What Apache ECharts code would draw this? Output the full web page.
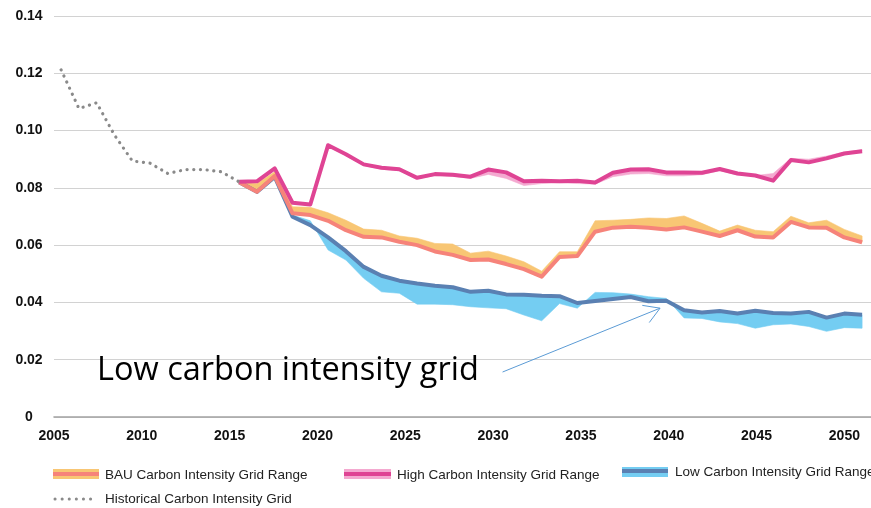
<!DOCTYPE html>
<html>
<head>
<meta charset="utf-8">
<script src="https://cdn.jsdelivr.net/npm/echarts@6/dist/echarts.min.js"></script>
<style>
html, body { margin: 0; padding: 0; background: #fff; }
#main { width: 871px; height: 508px; }
</style>
</head>
<body>
<div id="main"></div>
<script>
// historical grid intensity
var histYears = [2005, 2006, 2007, 2008, 2009, 2010, 2011, 2012, 2013, 2014, 2015];
var histValues = [0.1212, 0.1077, 0.1097, 0.0984, 0.0894, 0.0886, 0.0850, 0.0864, 0.0864, 0.0856, 0.0821];

// scenario years
var scenYears = [2015, 2016, 2017, 2018, 2019, 2020, 2021, 2022, 2023, 2024, 2025, 2026,
  2027, 2028, 2029, 2030, 2031, 2032, 2033, 2034, 2035, 2036, 2037, 2038,
  2039, 2040, 2041, 2042, 2043, 2044, 2045, 2046, 2047, 2048, 2049, 2050];

// BAU: main line + other edge of the range
var bauLine = [0.0820, 0.0786, 0.0841, 0.0711, 0.0705, 0.0685, 0.0652, 0.0629, 0.0627, 0.0612, 0.0600, 0.0578,
  0.0566, 0.0548, 0.0550, 0.0534, 0.0516, 0.0490, 0.0559, 0.0562, 0.0647, 0.0661, 0.0664, 0.0661,
  0.0655, 0.0662, 0.0647, 0.0632, 0.0652, 0.0630, 0.0627, 0.0681, 0.0662, 0.0661, 0.0627, 0.0610];
var bauEdge = [0.0820, 0.0815, 0.0856, 0.0734, 0.0732, 0.0713, 0.0687, 0.0656, 0.0652, 0.0632, 0.0624, 0.0606,
  0.0604, 0.0572, 0.0579, 0.0562, 0.0542, 0.0509, 0.0577, 0.0577, 0.0685, 0.0687, 0.0690, 0.0695,
  0.0693, 0.0702, 0.0676, 0.0649, 0.0670, 0.0652, 0.0647, 0.0701, 0.0678, 0.0687, 0.0655, 0.0632];

// High
var highLine = [0.0821, 0.0823, 0.0868, 0.0748, 0.0742, 0.0949, 0.0917, 0.0882, 0.0870, 0.0865, 0.0835, 0.0848,
  0.0846, 0.0839, 0.0864, 0.0854, 0.0823, 0.0825, 0.0823, 0.0825, 0.0819, 0.0853, 0.0864, 0.0865,
  0.0854, 0.0854, 0.0853, 0.0866, 0.0850, 0.0843, 0.0825, 0.0897, 0.0889, 0.0903, 0.0920, 0.0928];
var highEdge = [0.0821, 0.0823, 0.0868, 0.0748, 0.0742, 0.0945, 0.0912, 0.0878, 0.0865, 0.0860, 0.0832, 0.0843,
  0.0840, 0.0833, 0.0847, 0.0833, 0.0808, 0.0815, 0.0818, 0.0815, 0.0813, 0.0839, 0.0848, 0.0850,
  0.0842, 0.0842, 0.0846, 0.0860, 0.0845, 0.0843, 0.0850, 0.0903, 0.0900, 0.0911, 0.0925, 0.0933];

// Low
var lowLine = [0.0820, 0.0786, 0.0838, 0.0699, 0.0670, 0.0627, 0.0579, 0.0524, 0.0493, 0.0476, 0.0466, 0.0458,
  0.0453, 0.0437, 0.0441, 0.0428, 0.0427, 0.0423, 0.0422, 0.0398, 0.0405, 0.0412, 0.0419, 0.0404,
  0.0406, 0.0373, 0.0365, 0.0370, 0.0361, 0.0371, 0.0363, 0.0361, 0.0367, 0.0347, 0.0361, 0.0357];
var lowEdge = [0.0820, 0.0786, 0.0838, 0.0705, 0.0685, 0.0583, 0.0548, 0.0484, 0.0437, 0.0432, 0.0394, 0.0394,
  0.0392, 0.0385, 0.0381, 0.0378, 0.0356, 0.0336, 0.0396, 0.0380, 0.0435, 0.0434, 0.0429, 0.0420,
  0.0414, 0.0346, 0.0344, 0.0332, 0.0326, 0.0310, 0.0322, 0.0325, 0.0316, 0.0299, 0.0312, 0.0310];

var xTickLabels = ['2005', '2010', '2015', '2020', '2025', '2030', '2035', '2040', '2045', '2050'];
var yTickLabels = ['0', '0.02', '0.04', '0.06', '0.08', '0.10', '0.12', '0.14'];

// annotation (data space)
var noteText = 'Low carbon intensity grid';
var arrowFrom = [2029.8, 0.0157];
var arrowTo = [2038.65, 0.0380];

var xMin = 2004.6, xMax = 2050.5, xStep = 4.934;
var font = '"Liberation Sans", Arial, sans-serif';

function pairs(xs, ys) {
  return ys.map(function (v, i) { return [xs[i], v]; });
}

// range band: polygon between the main line and the other edge
function band(line, edge, color) {
  return {
    type: 'custom', silent: true,
    data: scenYears.map(function (y, i) { return [y, line[i], edge[i]]; }),
    encode: { x: 0, y: [1, 2] },
    renderItem: function (params, api) {
      if (params.dataIndex !== 0) return;
      var top = line.map(function (v, i) { return api.coord([scenYears[i], v]); });
      var bot = edge.map(function (v, i) { return api.coord([scenYears[i], v]); }).reverse();
      return { type: 'polygon', shape: { points: top.concat(bot) },
        style: { fill: color, stroke: color, lineWidth: 0.6 } };
    }
  };
}

function mainLine(data, color) {
  return { type: 'line', data: pairs(scenYears, data), symbol: 'none', silent: true,
    lineStyle: { color: color, width: 4, join: 'round' } };
}

var chart = echarts.init(document.getElementById('main'));

chart.setOption({
  animation: false,
  grid: { left: 54, right: 0, top: 16, bottom: 91, containLabel: false },
  xAxis: {
    type: 'value', min: xMin, max: xMax, interval: xStep,
    axisLine: { show: true, lineStyle: { color: '#a3a3a3', width: 1.6 } },
    axisTick: { show: false },
    splitLine: { show: false },
    axisLabel: {
      margin: 12, color: '#111', fontWeight: 'bold', fontSize: 14, fontFamily: font,
      showMaxLabel: false,
      formatter: function (v) {
        var k = (v - xMin) / xStep;
        var r = Math.round(k);
        if (Math.abs(k - r) > 0.02 || r < 0 || r >= xTickLabels.length) return '';
        return xTickLabels[r];
      }
    }
  },
  yAxis: {
    type: 'value', min: 0, max: 0.14, interval: 0.02,
    axisLine: { show: false },
    axisTick: { show: false },
    splitLine: { lineStyle: { color: '#d2d2d2', width: 1.2 } },
    axisLabel: {
      margin: 25, align: 'center', color: '#111', fontWeight: 'bold', fontSize: 14, fontFamily: font,
      formatter: function (v) { return yTickLabels[Math.round(v / 0.02)]; }
    }
  },
  series: [
    band(lowLine, lowEdge, '#74cdf2'),
    band(bauLine, bauEdge, '#f8c674'),
    band(highLine, highEdge, '#f4a9d0'),
    mainLine(lowLine, '#5a80b2'),
    mainLine(bauLine, '#f6837a'),
    mainLine(highLine, '#df4494'),
    { type: 'line', data: pairs(histYears, histValues), symbol: 'none', silent: true,
      lineStyle: { color: '#8a8a8a', width: 3.2, type: [0.1, 6.6], cap: 'round' } }
  ]
});

// legend + annotation drawn as graphics
var p0 = chart.convertToPixel({ gridIndex: 0 }, arrowFrom);
var p1 = chart.convertToPixel({ gridIndex: 0 }, arrowTo);
var ang = Math.atan2(p0[1] - p1[1], p0[0] - p1[0]);
var barb = 18, spread = 31 * Math.PI / 180;
function barbPt(s) {
  return [p1[0] + barb * Math.cos(ang + s), p1[1] + barb * Math.sin(ang + s)];
}

var legendText = { fill: '#222', font: '13.5px ' + font, verticalAlign: 'middle' };
function lt(x, y, text) {
  return { type: 'text', x: x, y: y, style: Object.assign({ text: text }, legendText) };
}

chart.setOption({
  graphic: [
    // BAU
    { type: 'rect', shape: { x: 53, y: 469, width: 46, height: 10 }, style: { fill: '#f8c674' } },
    { type: 'line', shape: { x1: 53, y1: 474, x2: 99, y2: 474 }, style: { stroke: '#f6837a', lineWidth: 4 } },
    lt(105, 475, 'BAU Carbon Intensity Grid Range'),
    // High
    { type: 'rect', shape: { x: 344, y: 469, width: 47, height: 10 }, style: { fill: '#f4a9d0' } },
    { type: 'line', shape: { x1: 344, y1: 474, x2: 391, y2: 474 }, style: { stroke: '#df4494', lineWidth: 4 } },
    lt(397, 475, 'High Carbon Intensity Grid Range'),
    // Low
    { type: 'rect', shape: { x: 622, y: 467, width: 46, height: 10 }, style: { fill: '#74cdf2' } },
    { type: 'line', shape: { x1: 622, y1: 471, x2: 668, y2: 471 }, style: { stroke: '#5a80b2', lineWidth: 4 } },
    lt(675, 472, 'Low Carbon Intensity Grid Range'),
    // Historical
    { type: 'line', shape: { x1: 55, y1: 499, x2: 96, y2: 499 },
      style: { stroke: '#8a8a8a', lineWidth: 3, lineDash: [0.1, 7], lineCap: 'round' } },
    lt(105, 499, 'Historical Carbon Intensity Grid'),
    // annotation
    { type: 'text', x: 97, y: 371,
      style: { text: noteText, fill: '#000', font: '32.5px "Open Sans", sans-serif', verticalAlign: 'middle' } },
    { type: 'line', shape: { x1: p0[0], y1: p0[1], x2: p1[0], y2: p1[1] }, style: { stroke: '#5b9bd5', lineWidth: 1 } },
    { type: 'polyline', shape: { points: [barbPt(spread), p1, barbPt(-spread)] },
      style: { stroke: '#5b9bd5', lineWidth: 1, fill: null } }
  ]
});
</script>
</body>
</html>
